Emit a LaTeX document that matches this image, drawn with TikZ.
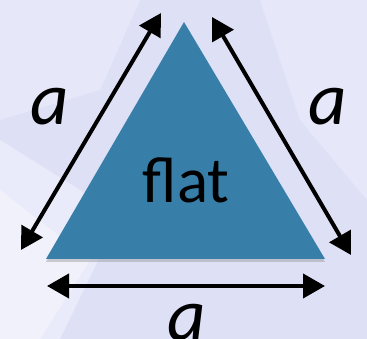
\documentclass[tikz,border=0pt]{standalone}
\usepackage{fontspec}
\setmainfont{Carlito}
\usetikzlibrary{arrows.meta,shadows}
\definecolor{bgbase}{RGB}{222,225,246}
\definecolor{bglight}{RGB}{238,240,252}
\definecolor{triblue}{RGB}{55,127,168}
\tikzset{
  dim/.style={line width=4pt,{Triangle[length=22pt,width=24pt]}-{Triangle[length=22pt,width=24pt]}},
  lbl/.style={font=\fontsize{75}{75}\selectfont\itshape,inner sep=0pt,anchor=base},
}
\begin{document}
\begin{tikzpicture}[x=1pt,y=-1pt]
\useasboundingbox (0,0) rectangle (367,339);
% background
\fill[bgbase] (0,0) rectangle (367,339);
\fill[bglight,opacity=0.7] (0,140) -- (120,215) -- (60,339) -- (0,339) -- cycle;
\fill[bglight,opacity=0.5] (0,0) -- (140,0) -- (100,90) -- (0,120) -- cycle;
\fill[bglight,opacity=0.5] (260,0) -- (367,0) -- (367,200) -- (300,120) -- cycle;
\fill[white,opacity=0.35] (0,190) -- (90,260) -- (40,339) -- (0,339) -- cycle;
% triangle
\coordinate (T) at (184,22);
\coordinate (BL) at (46,259);
\coordinate (BR) at (325,259);
\fill[triblue,drop shadow={shadow xshift=0pt,shadow yshift=-3pt,opacity=0.35}] (T) -- (BR) -- (BL) -- cycle;
\node[font=\fontsize{65}{65}\selectfont,inner sep=0pt,anchor=base] (flat) at (186,203) {flat};
% dimension arrows
\coordinate (l1) at (21,250);
\coordinate (l2) at (161,13);
\coordinate (r1) at (212,17);
\coordinate (r2) at (351,255);
\coordinate (b1) at (47,286);
\coordinate (b2) at (325,286);
\draw[dim] (l1) -- (l2);
\draw[dim] (r1) -- (r2);
\draw[dim] (b1) -- (b2);
\node[lbl] (aL) at (50,125) {a};
\node[lbl] (aR) at (328,125) {a};
\node[lbl] (aB) at (187,341) {a};
\end{tikzpicture}
\end{document}
